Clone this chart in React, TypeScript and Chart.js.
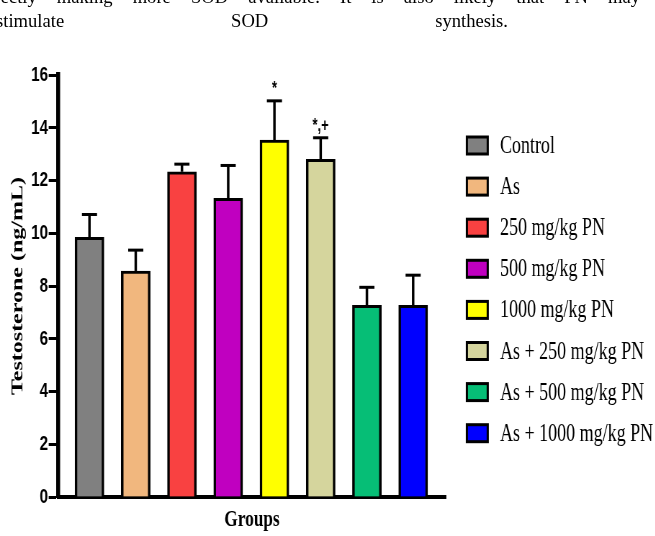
import React, { useEffect, useRef } from "react";
import { Chart, registerables } from "chart.js";

Chart.register(...registerables);

// ---- data ----
const categories = [
  "Control",
  "As",
  "250 mg/kg PN",
  "500 mg/kg PN",
  "1000 mg/kg PN",
  "As + 250 mg/kg PN",
  "As + 500 mg/kg PN",
  "As + 1000 mg/kg PN",
];
const means = [9.85, 8.57, 12.33, 11.32, 13.53, 12.8, 7.27, 7.27];
const errors = [0.86, 0.79, 0.29, 1.25, 1.49, 0.82, 0.68, 1.14];
const marks = ["", "", "", "", "*", "*,+", "", ""];
const colors = [
  "#808080",
  "#F1B77E",
  "#F94141",
  "#C000C0",
  "#FFFF00",
  "#D5D59D",
  "#06BE76",
  "#0000FF",
];
const yMin = 0;
const yMax = 16;
const yStep = 2;
const yTitle = "Testosterone (ng/mL)";
const xTitle = "Groups";
const textLine1 = "directly making more SOD available. It is also likely that PN may";
const textLine2 = "stimulate SOD synthesis.";

// ---- layout ----
const SX = 0.72; // horizontal compression of the embedded figure
const W = 910;
const H = 536;

const errorBarPlugin = {
  id: "errorBars",
  afterDatasetsDraw(chart: any) {
    const ctx = chart.ctx;
    const y = chart.scales.y;
    const meta = chart.getDatasetMeta(0);
    ctx.save();
    ctx.strokeStyle = "#000";
    ctx.fillStyle = "#000";
    meta.data.forEach((bar: any, i: number) => {
      const x = bar.x;
      const top = y.getPixelForValue(means[i]);
      const end = y.getPixelForValue(means[i] + errors[i]);
      ctx.lineWidth = 3.5;
      ctx.beginPath();
      ctx.moveTo(x, top);
      ctx.lineTo(x, end);
      ctx.stroke();
      ctx.lineWidth = 3;
      ctx.beginPath();
      ctx.moveTo(x - 10.5, end);
      ctx.lineTo(x + 10.5, end);
      ctx.stroke();
      if (marks[i]) {
        ctx.font = "bold 18px 'Liberation Sans', Arial, sans-serif";
        ctx.textAlign = "center";
        ctx.textBaseline = "middle";
        ctx.fillText(marks[i], x, end - 12);
      }
    });
    ctx.restore();
  },
};

const sideLegendPlugin = {
  id: "sideLegend",
  afterDraw(chart: any) {
    const ctx = chart.ctx;
    const boxLeft = chart.chartArea.right + 29;
    const boxW = 29;
    const boxH = 17;
    const textLeft = boxLeft + 46;
    ctx.save();
    ctx.font = "25px 'Liberation Serif', 'Times New Roman', serif";
    ctx.textAlign = "left";
    ctx.textBaseline = "alphabetic";
    categories.forEach((label, i) => {
      const cy = 145.5 + i * 41.1;
      ctx.fillStyle = colors[i];
      ctx.fillRect(boxLeft, cy - boxH / 2, boxW, boxH);
      ctx.strokeStyle = "#000";
      ctx.lineWidth = 3;
      ctx.strokeRect(boxLeft, cy - boxH / 2, boxW, boxH);
      ctx.fillStyle = "#000";
      ctx.fillText(label, textLeft, cy + 7.5);
    });
    ctx.restore();
  },
};

export default function App() {
  const canvasRef = useRef<HTMLCanvasElement | null>(null);

  useEffect(() => {
    const canvas = canvasRef.current;
    if (!canvas) return;
    const chart = new Chart(canvas, {
      type: "bar",
      data: {
        datasets: [
          {
            label: "Testosterone",
            data: categories.map((_, i) => ({ x: i, y: means[i] })),
            backgroundColor: colors,
            borderColor: "#000",
            borderWidth: { top: 3, left: 3.5, right: 3.5, bottom: 0 },
            borderSkipped: "start",
            barThickness: 40.3,
          },
        ],
      },
      options: {
        responsive: false,
        maintainAspectRatio: false,
        devicePixelRatio: 1,
        animation: false,
        events: [],
        layout: { padding: { top: 75, right: 290.6, left: 0, bottom: 0 } },
        plugins: {
          legend: { display: false },
          tooltip: { enabled: false },
          title: { display: false },
        },
        scales: {
          x: {
            type: "linear",
            min: -0.68,
            max: 7.71,
            offset: false,
            ticks: { display: false },
            grid: { display: false },
            border: { display: true, color: "#000", width: 4 },
            title: {
              display: true,
              text: xTitle,
              color: "#000",
              font: { family: "'Liberation Serif', 'Times New Roman', serif", size: 24, weight: "bold" },
              padding: { top: 0, bottom: 2 },
            },
            afterFit: (s: any) => {
              s.height = 39;
            },
          },
          y: {
            min: yMin,
            max: yMax,
            ticks: {
              stepSize: yStep,
              color: "#000",
              padding: 1,
              font: { family: "'Liberation Sans', Arial, sans-serif", size: 21, weight: "bold" },
            },
            grid: {
              display: true,
              drawOnChartArea: false,
              drawTicks: true,
              tickLength: 13,
              tickWidth: 3,
              tickColor: "#000",
            },
            border: { display: true, color: "#000", width: 5.5 },
            title: {
              display: true,
              text: yTitle,
              color: "#000",
              font: { family: "'Liberation Serif', 'Times New Roman', serif", size: 24, weight: "bold" },
              padding: { top: 10, bottom: 0 },
            },
            afterFit: (s: any) => {
              s.width = 80.6;
            },
          },
        },
      },
      plugins: [errorBarPlugin, sideLegendPlugin],
    } as any);
    return () => chart.destroy();
  }, []);

  const textStyle: React.CSSProperties = {
    position: "fixed",
    fontFamily: "'Liberation Serif', 'Times New Roman', serif",
    fontSize: "18.6px",
    lineHeight: "18.6px",
    textAlign: "justify",
    textAlignLast: "justify" as any,
    color: "#000",
    margin: 0,
    whiteSpace: "normal",
  };

  return (
    <div>
      <div
        style={{
          position: "fixed",
          left: 0,
          top: 0,
          width: W,
          height: H,
          transform: `scaleX(${SX})`,
          transformOrigin: "0 0",
        }}
      >
        <canvas ref={canvasRef} width={W} height={H} style={{ display: "block" }} />
      </div>
      <div style={{ ...textStyle, left: -20, top: -11.6, width: 660 }}>{textLine1}</div>
      <div style={{ ...textStyle, left: -4, top: 12.1, width: 512 }}>{textLine2}</div>
    </div>
  );
}
